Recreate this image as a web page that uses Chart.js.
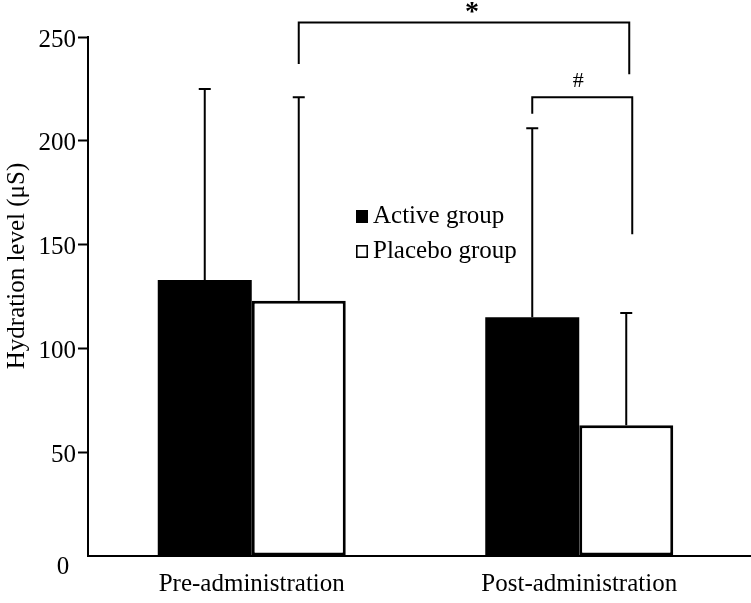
<!DOCTYPE html>
<html>
<head>
<meta charset="utf-8">
<script src="https://cdn.jsdelivr.net/npm/chart.js@4.4.1/dist/chart.umd.min.js"></script>
<style>
  html, body { margin: 0; padding: 0; background: #fff; }
  #wrap { width: 751px; height: 603px; }
</style>
</head>
<body>
<div id="wrap"><canvas id="myChart" width="751" height="603"></canvas></div>
<script>
const categories = ['Pre-administration', 'Post-administration'];
const seriesNames = ['Active group', 'Placebo group'];
const activeMeans = [133, 115];
const activeSD = [92, 91];
const placeboMeans = [123, 63];
const placeboSD = [98, 54];
const yTicks = [0, 50, 100, 150, 200, 250];
const yTitle = 'Hydration level (\u03bcS)';

// significance brackets: [datasetIndex, categoryIndex] for each leg, heights in data units
const bracketLabels = ['*', '#'];
const bracketLeft = [[1, 0], [0, 1]];
const bracketRight = [[1, 1], [1, 1]];
const bracketTop = [257, 221];
const bracketLeftEnd = [237, 213];
const bracketRightEnd = [232, 155];

const FONT = '"Liberation Serif", "Times New Roman", serif';
const sds = [activeSD, placeboSD];

const extras = {
    id: 'extras',
    afterDatasetsDraw(chart) {
        const ctx = chart.ctx;
        const y = chart.scales.y;
        const area = chart.chartArea;
        ctx.save();
        ctx.strokeStyle = '#000';
        ctx.fillStyle = '#000';
        ctx.lineWidth = 2;

        // x axis line runs on to the edge
        ctx.beginPath();
        ctx.moveTo(area.right - 1, area.bottom);
        ctx.lineTo(chart.width, area.bottom);
        ctx.stroke();

        // error bars (upper whisker only)
        chart.data.datasets.forEach((ds, i) => {
            chart.getDatasetMeta(i).data.forEach((bar, j) => {
                const top = y.getPixelForValue(ds.data[j] + sds[i][j]);
                ctx.beginPath();
                ctx.moveTo(bar.x, bar.y);
                ctx.lineTo(bar.x, top);
                ctx.moveTo(bar.x - 6, top);
                ctx.lineTo(bar.x + 6, top);
                ctx.stroke();
            });
        });

        // brackets
        bracketLabels.forEach((lab, k) => {
            const l = chart.getDatasetMeta(bracketLeft[k][0]).data[bracketLeft[k][1]];
            const r = chart.getDatasetMeta(bracketRight[k][0]).data[bracketRight[k][1]];
            const yt = y.getPixelForValue(bracketTop[k]);
            const rx = r.x + 3 + k * 3;
            ctx.beginPath();
            ctx.moveTo(l.x, y.getPixelForValue(bracketLeftEnd[k]));
            ctx.lineTo(l.x, yt);
            ctx.lineTo(rx, yt);
            ctx.lineTo(rx, y.getPixelForValue(bracketRightEnd[k]));
            ctx.stroke();
            ctx.textAlign = 'center';
            ctx.textBaseline = 'middle';
            if (lab === '*') {
                ctx.font = 'bold 28px ' + FONT;
                ctx.fillText(lab, (l.x + rx) / 2 + 8, yt - 10);
            } else {
                ctx.font = '22px ' + FONT;
                ctx.fillText(lab, (l.x + rx) / 2 - 4, yt - 16);
            }
        });

        // legend
        ctx.font = '25px ' + FONT;
        ctx.textAlign = 'left';
        ctx.textBaseline = 'alphabetic';
        chart.data.datasets.forEach((ds, i) => {
            const ly = 210 + i * 35;
            if (i === 0) {
                ctx.fillRect(356, ly, 12, 13);
            } else {
                ctx.lineWidth = 1.6;
                ctx.strokeRect(356.8, ly + 0.8, 10.4, 11.4);
            }
            ctx.fillText(ds.label, 373, ly + 13);
        });

        // "0" sits below the axis in the original
        ctx.textAlign = 'center';
        ctx.textBaseline = 'middle';
        ctx.fillText('0', 63, 567);

        // y title
        ctx.save();
        ctx.translate(17, 266);
        ctx.rotate(-Math.PI / 2);
        ctx.textAlign = 'center';
        ctx.textBaseline = 'middle';
        ctx.font = '25px ' + FONT;
        ctx.fillText(yTitle, 0, 0);
        ctx.restore();

        ctx.restore();
    }
};

const ctx = document.getElementById('myChart').getContext('2d');
new Chart(ctx, {
    type: 'bar',
    data: {
        labels: categories,
        datasets: [{
            label: seriesNames[0],
            data: activeMeans,
            backgroundColor: '#000',
            borderWidth: 0,
            categoryPercentage: 0.574,
            barPercentage: 1
        }, {
            label: seriesNames[1],
            data: placeboMeans,
            backgroundColor: '#fff',
            borderColor: '#000',
            borderWidth: 3,
            borderSkipped: false,
            categoryPercentage: 0.574,
            barPercentage: 1
        }]
    },
    options: {
        responsive: false,
        animation: false,
        layout: { padding: { top: 37, right: 8, left: 0, bottom: 0 } },
        plugins: {
            legend: { display: false },
            tooltip: { enabled: false }
        },
        scales: {
            x: {
                grid: { display: false, drawTicks: false },
                border: { display: true, color: '#000', width: 2 },
                ticks: {
                    color: '#000',
                    font: { family: FONT, size: 25 },
                    padding: 13
                },
                afterFit(scale) { scale.height = 47; }
            },
            y: {
                min: 0,
                max: 250,
                afterBuildTicks(scale) { scale.ticks = yTicks.map(v => ({ value: v })); },
                grid: {
                    drawOnChartArea: false,
                    drawTicks: true,
                    tickLength: 10,
                    tickWidth: 2,
                    tickColor: c => (c.tick && c.tick.value === 0) ? 'rgba(0,0,0,0)' : '#000'
                },
                border: { display: true, color: '#000', width: 2 },
                ticks: {
                    color: '#000',
                    font: { family: FONT, size: 25 },
                    padding: 2,
                    labelOffset: 3,
                    callback: v => (v === 0 ? '' : v)
                },
                afterFit(scale) { scale.width = 88; }
            }
        }
    },
    plugins: [extras]
});
</script>
</body>
</html>
